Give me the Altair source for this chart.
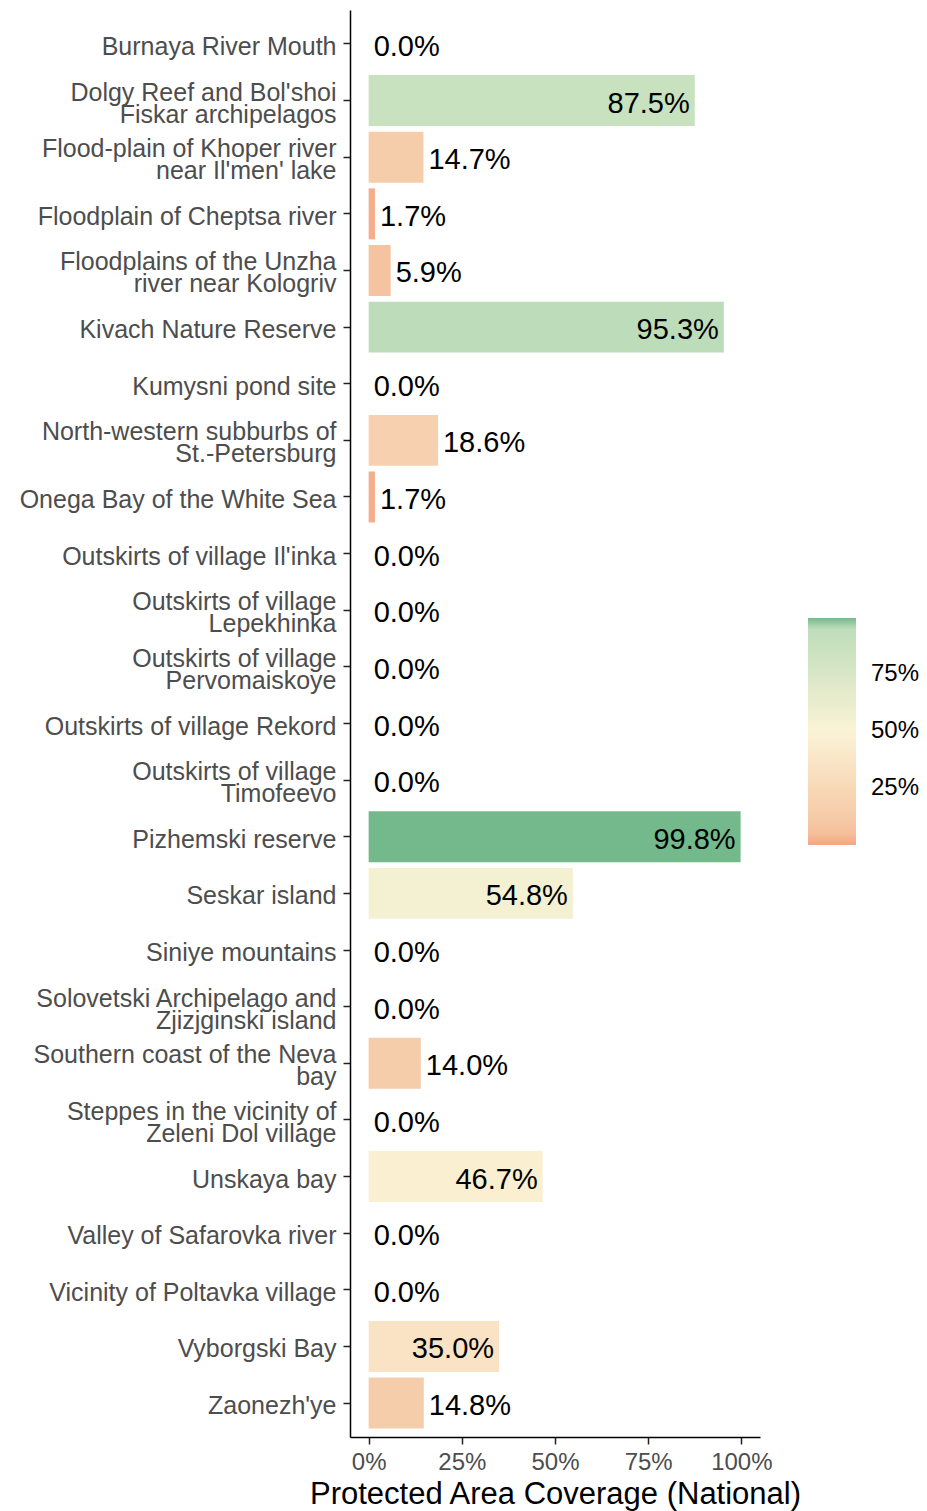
import altair as alt
import pandas as pd

sites = [
    "Burnaya River Mouth",
    "Dolgy Reef and Bol'shoi\nFiskar archipelagos",
    "Flood-plain of Khoper river\nnear Il'men' lake",
    "Floodplain of Cheptsa river",
    "Floodplains of the Unzha\nriver near Kologriv",
    "Kivach Nature Reserve",
    "Kumysni pond site",
    "North-western subburbs of\nSt.-Petersburg",
    "Onega Bay of the White Sea",
    "Outskirts of village Il'inka",
    "Outskirts of village\nLepekhinka",
    "Outskirts of village\nPervomaiskoye",
    "Outskirts of village Rekord",
    "Outskirts of village\nTimofeevo",
    "Pizhemski reserve",
    "Seskar island",
    "Siniye mountains",
    "Solovetski Archipelago and\nZjizjginski island",
    "Southern coast of the Neva\nbay",
    "Steppes in the vicinity of\nZeleni Dol village",
    "Unskaya bay",
    "Valley of Safarovka river",
    "Vicinity of Poltavka village",
    "Vyborgski Bay",
    "Zaonezh'ye",
]
coverage = [0.0, 87.5, 14.7, 1.7, 5.9, 95.3, 0.0, 18.6, 1.7, 0.0, 0.0, 0.0, 0.0,
            0.0, 99.8, 54.8, 0.0, 0.0, 14.0, 0.0, 46.7, 0.0, 0.0, 35.0, 14.8]
x_ticks = [0, 25, 50, 75, 100]
legend_ticks = [25, 50, 75]
color_stops = [0, 6, 50, 97, 99.8]
color_range = ["#F4A582", "#F5C4A0", "#FBF3D6", "#BBDCB9", "#74B98C"]

df = pd.DataFrame({"site": sites, "coverage": coverage})
df["label"] = [f"{v:.1f}%" for v in coverage]

FONT = "Liberation Sans"

y_enc = alt.Y(
    "site:N",
    sort=sites,
    title=None,
    scale=alt.Scale(paddingInner=0.1, paddingOuter=0.15),
    axis=alt.Axis(
        labelExpr="split(datum.label, '\\n')",
        labelFont=FONT,
        labelFontSize=25,
        labelLineHeight=22,
        labelColor="#4D4D4D",
        labelPadding=7,
        labelOffset=alt.condition("indexof(datum.value, '\\n') >= 0", alt.value(-8), alt.value(3)),
        tickSize=7,
        tickColor="#222222",
        tickWidth=1.5,
        domainColor="#000000",
        domainWidth=1.5,
        labelLimit=400,
    ),
)
x_scale = alt.Scale(domain=[-5, 105], nice=False, zero=False)
x_enc = alt.X(
    "coverage:Q",
    scale=x_scale,
    title="Protected Area Coverage (National)",
    axis=alt.Axis(
        values=x_ticks,
        labelExpr="datum.value + '%'",
        labelFont=FONT,
        labelFontSize=24,
        labelColor="#4D4D4D",
        labelPadding=6,
        tickSize=7,
        tickColor="#222222",
        tickWidth=1.5,
        domainColor="#000000",
        domainWidth=1.5,
        grid=False,
        titleFont=FONT,
        titleFontSize=31,
        titleFontWeight="normal",
        titleColor="#000000",
        titlePadding=5,
    ),
)

bars = alt.Chart(df).mark_bar().encode(
    y=y_enc,
    x=x_enc,
    color=alt.Color(
        "coverage:Q",
        scale=alt.Scale(domain=color_stops, range=color_range, interpolate="rgb"),
        legend=alt.Legend(
            title=None,
            orient="none",
            legendX=458,
            legendY=608,
            direction="vertical",
            gradientLength=227,
            gradientThickness=48,
            gradientStrokeWidth=0,
            values=legend_ticks,
            labelExpr="datum.value + '%'",
            labelFont=FONT,
            labelFontSize=24,
            labelColor="#000000",
            labelOffset=15,
        ),
    ),
)

outside = alt.Chart(df).transform_filter("datum.coverage < 30").mark_text(
    align="left", baseline="middle", dx=5, dy=3, font=FONT, fontSize=29, color="#000000"
).encode(
    y=alt.Y("site:N", sort=sites),
    x=alt.X("coverage:Q", scale=x_scale),
    text="label:N",
)
inside = alt.Chart(df).transform_filter("datum.coverage >= 30").mark_text(
    align="right", baseline="middle", dx=-5, dy=3, font=FONT, fontSize=29, color="#000000"
).encode(
    y=alt.Y("site:N", sort=sites),
    x=alt.X("coverage:Q", scale=x_scale),
    text="label:N",
)

chart = (
    alt.layer(bars, outside, inside)
    .properties(
        width=410,
        height=1427,
        autosize=alt.AutoSizeParams(type="none"),
        padding={"left": 342, "top": 2, "right": 159, "bottom": 74},
    )
    .configure_view(stroke=None)
)

chart.save("out.html", embed_options={"renderer": "svg", "actions": False})
